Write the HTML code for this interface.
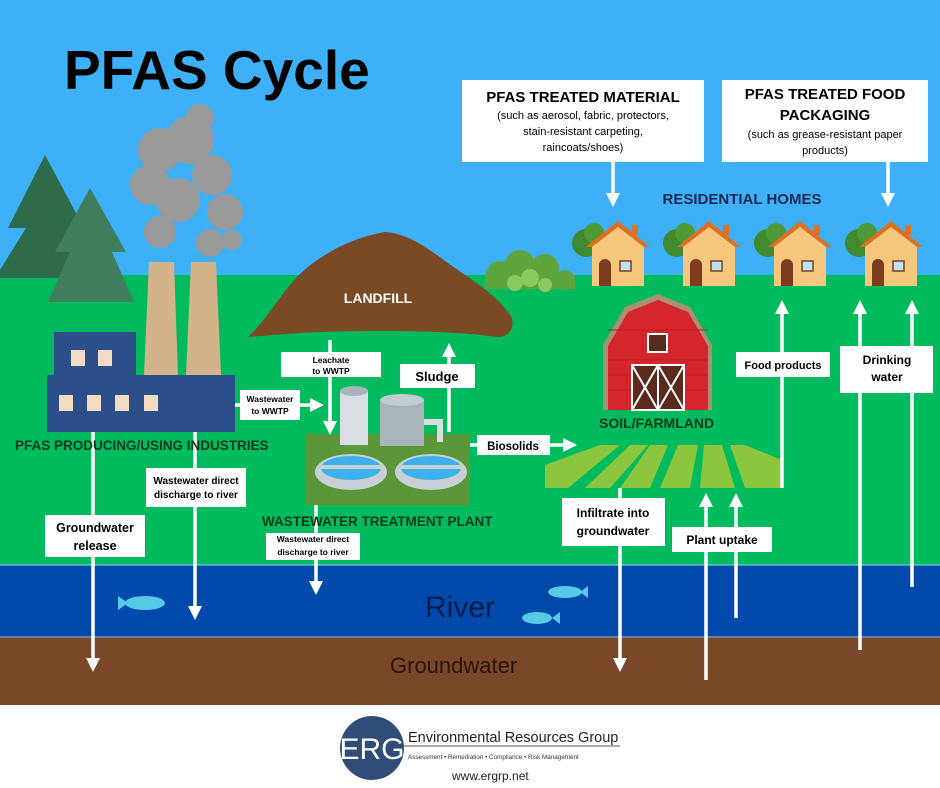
<!DOCTYPE html>
<html><head><meta charset="utf-8"><style>
html,body{margin:0;padding:0;background:#fff}
svg{display:block}
text{font-family:"Liberation Sans",sans-serif}
.b{font-weight:bold}
</style></head><body>
<svg width="940" height="788" viewBox="0 0 940 788" xmlns="http://www.w3.org/2000/svg">
<defs>
<marker id="ah" viewBox="0 0 10 10" refX="5" refY="5" markerWidth="4" markerHeight="4" orient="auto-start-reverse"><path d="M0,0 L10,5 L0,10 z" fill="#fff"/></marker>
<g id="house">
<circle cx="-6" cy="18" r="14" fill="#3f8a2e"/><circle cx="2" cy="8" r="10" fill="#4f9a36"/>
<rect x="0" y="18" width="52" height="43" fill="#f8c77e"/>
<polygon points="-6,22 26,-4 58,22 52,22 26,2 0,22" fill="#e0701e"/>
<polygon points="0,22 26,2 52,22" fill="#f8c77e"/>
<rect x="40" y="0" width="6" height="10" fill="#e0701e"/>
<path d="M7,61 V40 a6,6 0 0 1 12,0 V61z" fill="#7b3d1e"/>
<rect x="28" y="36" width="11" height="10" fill="#bde2f5" stroke="#7b3d1e" stroke-width="1.5"/>
</g>
</defs>
<rect width="940" height="275" fill="#3db0f7"/>
<rect y="275" width="940" height="291" fill="#00bb5d"/>
<rect y="565" width="940" height="72" fill="#014aac"/>
<line x1="0" y1="565" x2="940" y2="565" stroke="#9fd4f0" stroke-width="1"/>
<rect y="637" width="940" height="68" fill="#7a4828"/>
<line x1="0" y1="637" x2="940" y2="637" stroke="#9fb4d8" stroke-width="1"/>
<text x="64" y="89" class="b" font-size="55" fill="#000">PFAS Cycle</text>
<!-- trees -->
<polygon points="45,155 8,228 26,228 -5,278 95,278 68,228 84,228" fill="#2e6b4b"/>
<polygon points="90,188 55,252 70,252 48,302 134,302 112,252 126,252" fill="#3f7e5d"/>
<!-- smoke -->
<g fill="#9a9a9a"><circle cx="160" cy="150" r="22"/><circle cx="190" cy="140" r="24"/><circle cx="150" cy="185" r="20"/><circle cx="178" cy="200" r="22"/><circle cx="160" cy="232" r="16"/><circle cx="212" cy="175" r="20"/><circle cx="225" cy="212" r="18"/><circle cx="210" cy="243" r="14"/><circle cx="200" cy="118" r="14"/><circle cx="232" cy="240" r="10"/></g>
<!-- chimneys -->
<polygon points="149,262 174,262 178,375 144,375" fill="#d3b38a"/>
<polygon points="191,262 216,262 221,375 186,375" fill="#d3b38a"/>
<!-- factory -->
<rect x="54" y="332" width="82" height="46" fill="#2c4f8a"/>
<rect x="47" y="375" width="188" height="57" fill="#2c4f8a"/>
<g fill="#f1dcc3"><rect x="71" y="350" width="14" height="16"/><rect x="98" y="350" width="14" height="16"/><rect x="59" y="395" width="14" height="16"/><rect x="87" y="395" width="14" height="16"/><rect x="115" y="395" width="14" height="16"/><rect x="144" y="395" width="14" height="16"/></g>
<!-- bush -->
<g fill="#5ea43c"><circle cx="500" cy="275" r="14"/><circle cx="520" cy="265" r="15"/><circle cx="545" cy="268" r="14"/><circle cx="565" cy="280" r="10"/><rect x="485" y="275" width="90" height="14"/></g>
<g fill="#8cc860"><circle cx="515" cy="283" r="8"/><circle cx="530" cy="278" r="9"/><circle cx="545" cy="285" r="7"/></g>
<!-- houses -->
<use href="#house" x="592" y="225"/><use href="#house" x="683" y="225"/><use href="#house" x="774" y="225"/><use href="#house" x="865" y="225"/>
<!-- landfill -->
<path d="M248,337 C268,318 282,292 298,276 C318,256 350,238 385,232 C412,234 432,252 455,268 C478,284 500,298 512,318 C515,332 505,340 490,336 C440,330 360,330 300,333 Z" fill="#7a4a25"/>
<text x="378" y="303" class="b" font-size="14" fill="#fff" text-anchor="middle">LANDFILL</text>
<!-- WWTP -->
<rect x="305" y="434" width="165" height="71" fill="#5b9639"/>
<rect x="340" y="390" width="28" height="55" fill="#d9dee2"/><ellipse cx="354" cy="391" rx="14" ry="5" fill="#a9b3bb"/>
<rect x="380" y="400" width="44" height="46" fill="#a8b3ba"/><ellipse cx="402" cy="400" rx="22" ry="6" fill="#c3ccd2"/>
<path d="M424,422 h16 v20" stroke="#d9dee2" stroke-width="6" fill="none"/>
<ellipse cx="351" cy="472" rx="36" ry="18" fill="#c9d0d5"/><ellipse cx="351" cy="468" rx="30" ry="12" fill="#3eb2ea"/><rect x="321" y="465" width="60" height="4" fill="#c9d0d5"/>
<ellipse cx="431" cy="472" rx="36" ry="18" fill="#c9d0d5"/><ellipse cx="431" cy="468" rx="30" ry="12" fill="#3eb2ea"/><rect x="401" y="465" width="60" height="4" fill="#c9d0d5"/>
<!-- barn -->
<polygon points="603,345 625,307 658,294 690,307 712,345 712,410 603,410" fill="#a89070"/>
<polygon points="608,346 628,312 658,300 688,312 708,346 708,410 608,410" fill="#d5262e"/>
<g stroke="#b01d24" stroke-width="1"><line x1="608" y1="360" x2="708" y2="360"/><line x1="608" y1="375" x2="708" y2="375"/><line x1="608" y1="390" x2="708" y2="390"/><line x1="608" y1="330" x2="708" y2="330"/></g>
<rect x="648" y="334" width="19" height="18" fill="#5a2a1c" stroke="#fff" stroke-width="2"/>
<rect x="632" y="365" width="52" height="45" fill="#5a2a1c" stroke="#fff" stroke-width="2"/>
<g stroke="#fff" stroke-width="2"><line x1="658" y1="365" x2="658" y2="410"/><line x1="632" y1="365" x2="658" y2="410"/><line x1="658" y1="365" x2="632" y2="410"/><line x1="658" y1="365" x2="684" y2="410"/><line x1="684" y1="365" x2="658" y2="410"/></g>
<!-- field -->
<g fill="#8cc63f"><polygon points="545,465 600,445 620,445 568,488 545,488"/><polygon points="585,488 630,445 648,445 610,488"/><polygon points="620,488 650,445 668,445 650,488"/><polygon points="660,488 678,445 698,445 690,488"/><polygon points="700,488 704,445 722,445 735,488"/><polygon points="745,488 730,445 745,445 782,460 782,488"/></g>
<!-- fish -->
<g fill="#55c9e6"><ellipse cx="145" cy="603" rx="20" ry="7"/><polygon points="118,596 128,603 118,610"/>
<ellipse cx="565" cy="592" rx="17" ry="6"/><polygon points="588,586 580,592 588,598"/>
<ellipse cx="537" cy="618" rx="15" ry="6"/><polygon points="560,612 552,618 560,624"/></g>
<text x="425" y="617" font-size="30" fill="#0d1d4a">River</text>
<text x="390" y="673" font-size="22" fill="#2a140a">Groundwater</text>
<!-- arrows -->
<g stroke="#fff" stroke-width="3.5" fill="none" marker-end="url(#ah)">
<line x1="613" y1="162" x2="613" y2="200"/>
<line x1="888" y1="162" x2="888" y2="200"/>
<line x1="93" y1="432" x2="93" y2="665"/>
<line x1="195" y1="432" x2="195" y2="613"/>
<line x1="235" y1="405" x2="317" y2="405"/>
<line x1="330" y1="340" x2="330" y2="428"/>
<line x1="449" y1="432" x2="449" y2="350"/>
<line x1="316" y1="505" x2="316" y2="588"/>
<line x1="470" y1="445" x2="570" y2="445"/>
<line x1="620" y1="488" x2="620" y2="665"/>
<line x1="706" y1="680" x2="706" y2="500"/>
<line x1="736" y1="618" x2="736" y2="500"/>
<line x1="782" y1="488" x2="782" y2="307"/>
<line x1="860" y1="650" x2="860" y2="307"/>
<line x1="912" y1="587" x2="912" y2="307"/>
</g>
<!-- labels -->
<text x="15" y="450" class="b" font-size="13.5" fill="#0b3a1c">PFAS PRODUCING/USING INDUSTRIES</text>
<text x="262" y="526" class="b" font-size="13.5" fill="#0b3a1c">WASTEWATER TREATMENT PLANT</text>
<text x="599" y="428" class="b" font-size="14" fill="#0b3a1c">SOIL/FARMLAND</text>
<text x="742" y="204" class="b" font-size="15" fill="#1a2a55" text-anchor="middle">RESIDENTIAL HOMES</text>
<g fill="#fff">
<rect x="462" y="80" width="242" height="82"/><rect x="722" y="80" width="206" height="82"/>
<rect x="45" y="515" width="100" height="42"/><rect x="146" y="468" width="100" height="39"/>
<rect x="240" y="390" width="60" height="30"/><rect x="281" y="352" width="100" height="25"/>
<rect x="400" y="364" width="75" height="24"/><rect x="266" y="533" width="94" height="27"/>
<rect x="477" y="435" width="73" height="20"/><rect x="562" y="498" width="103" height="48"/>
<rect x="672" y="527" width="100" height="25"/><rect x="736" y="352" width="94" height="25"/>
<rect x="840" y="346" width="93" height="47"/>
</g>
<g fill="#000" text-anchor="middle">
<text x="583" y="102" class="b" font-size="15">PFAS TREATED MATERIAL</text>
<text x="583" y="119" font-size="11">(such as aerosol, fabric, protectors,</text>
<text x="583" y="135" font-size="11">stain-resistant carpeting,</text>
<text x="583" y="151" font-size="11">raincoats/shoes)</text>
<text x="825" y="99" class="b" font-size="15">PFAS TREATED FOOD</text>
<text x="825" y="120" class="b" font-size="15">PACKAGING</text>
<text x="825" y="138" font-size="11">(such as grease-resistant paper</text>
<text x="825" y="154" font-size="11">products)</text>
<text x="95" y="532" class="b" font-size="12.5">Groundwater</text>
<text x="95" y="550" class="b" font-size="12.5">release</text>
<text x="196" y="484" class="b" font-size="10">Wastewater direct</text>
<text x="196" y="498" class="b" font-size="10">discharge to river</text>
<text x="270" y="402" class="b" font-size="8.5">Wastewater</text>
<text x="270" y="414" class="b" font-size="8.5">to WWTP</text>
<text x="331" y="363" class="b" font-size="8.5">Leachate</text>
<text x="331" y="374" class="b" font-size="8.5">to WWTP</text>
<text x="437" y="381" class="b" font-size="13">Sludge</text>
<text x="313" y="542" class="b" font-size="8.5">Wastewater direct</text>
<text x="313" y="555" class="b" font-size="8.5">discharge to river</text>
<text x="513" y="450" class="b" font-size="11.5">Biosolids</text>
<text x="613" y="517" class="b" font-size="12">Infiltrate into</text>
<text x="613" y="535" class="b" font-size="12">groundwater</text>
<text x="722" y="544" class="b" font-size="12">Plant uptake</text>
<text x="783" y="369" class="b" font-size="11">Food products</text>
<text x="887" y="364" class="b" font-size="12">Drinking</text>
<text x="887" y="381" class="b" font-size="12">water</text>
</g>
<!-- logo -->
<circle cx="372" cy="748" r="32" fill="#2f4d78"/>
<text x="372" y="759" font-size="30" fill="#fff" text-anchor="middle">ERG</text>
<line x1="404" y1="746" x2="620" y2="746" stroke="#555" stroke-width="1"/>
<text x="408" y="742" font-size="14.5" fill="#222">Environmental Resources Group</text>
<text x="408" y="759" font-size="6.3" fill="#333">Assessment • Remediation • Compliance • Risk Management</text>
<text x="452" y="780" font-size="12" fill="#222">www.ergrp.net</text>
</svg>
</body></html>
